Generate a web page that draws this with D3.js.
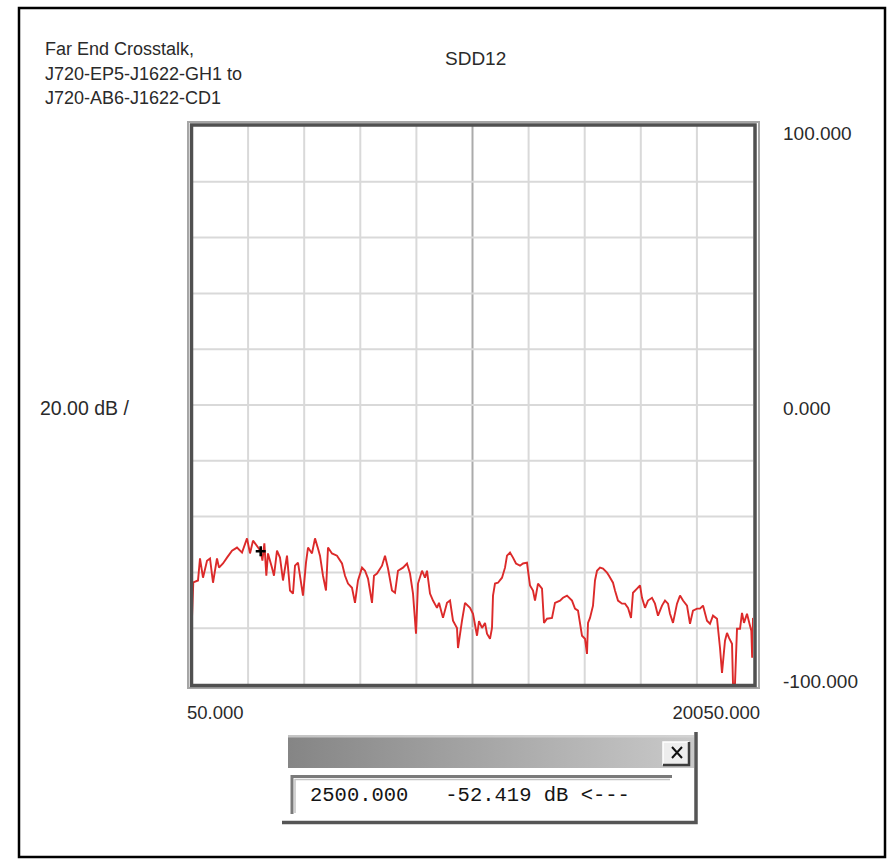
<!DOCTYPE html>
<html>
<head>
<meta charset="utf-8">
<script src="https://cdn.jsdelivr.net/npm/d3@7"></script>
<style>
  html, body { margin: 0; padding: 0; background: #fff; }
  svg { display: block; }
  text { font-family: "Liberation Sans", Arial, sans-serif; fill: #2a2a2a; }
  .mono { font-family: "Liberation Mono", "DejaVu Sans Mono", monospace; white-space: pre; }
</style>
</head>
<body>
<svg id="chart" width="890" height="859"></svg>
<script>
// Far-end crosstalk sweep (SDD12), magnitude in dB against frequency in MHz

const titleLines = ["Far End Crosstalk,", "J720-EP5-J1622-GH1 to", "J720-AB6-J1622-CD1"];
const traceName = "SDD12";
const scaleLabel = "20.00 dB /";

const freqDomain = [50, 20050];
const dbDomain = [-100, 100];
const freqGrid = [2050, 4050, 6050, 8050, 10050, 12050, 14050, 16050, 18050];
const dbGrid = [-80, -60, -40, -20, 0, 20, 40, 60, 80];
const dbLabels = [100, 0, -100];
const freqLabels = [50, 20050];

// Measured trace
const freqs = [
  50, 96, 264, 335, 442, 585, 692, 799, 941, 1013,
  1155, 1298, 1476, 1654, 1833, 2011, 2118, 2225, 2500, 2560,
  2630, 2700, 2759, 2902, 2973, 3080, 3187, 3294, 3437, 3544,
  3651, 3722, 3829, 4007, 4114, 4186, 4328, 4435, 4542, 4613,
  4720, 4827, 4899, 5041, 5219, 5398, 5505, 5612, 5754, 5861,
  5968, 6111, 6218, 6325, 6467, 6538, 6645, 6824, 6931, 7038,
  7180, 7287, 7394, 7572, 7715, 7822, 7929, 8036, 8107, 8250,
  8357, 8428, 8535, 8642, 8784, 8856, 8998, 9141, 9248, 9355,
  9497, 9533, 9676, 9783, 9961, 10068, 10211, 10282, 10389, 10496,
  10567, 10674, 10745, 10781, 10852, 10959, 11102, 11209, 11280, 11387,
  11494, 11601, 11744, 11850, 11993, 12029, 12100, 12207, 12278, 12385,
  12528, 12599, 12706, 12884, 12991, 13170, 13277, 13419, 13597, 13704,
  13811, 13954, 14061, 14132, 14168, 14239, 14346, 14417, 14489, 14596,
  14703, 14845, 14916, 15059, 15130, 15237, 15380, 15487, 15594, 15701,
  15772, 15915, 16022, 16093, 16200, 16307, 16449, 16556, 16663, 16806,
  16913, 17020, 17091, 17198, 17341, 17448, 17555, 17697, 17804, 17911,
  18054, 18161, 18268, 18410, 18517, 18624, 18767, 18874, 18945, 19052,
  19123, 19195, 19302, 19337, 19408, 19480, 19587, 19658, 19729, 19836,
  19943, 19990, 20020, 20050
];
const dbs = [
  -76.2, -63.6, -62.9, -55.0, -61.9, -55.8, -55.0, -63.7, -55.0, -58.3,
  -56.8, -54.7, -52.2, -51.1, -52.9, -47.8, -53.2, -48.6, -52.419, -55.8,
  -49.6, -61.2, -53.2, -58.3, -61.2, -52.2, -54.7, -62.9, -54.0, -66.5,
  -67.6, -57.6, -56.5, -68.3, -56.5, -51.1, -53.2, -47.8, -51.4, -54.0,
  -61.2, -66.5, -51.1, -53.2, -54.0, -56.8, -61.2, -64.0, -65.5, -70.9,
  -62.9, -58.3, -59.4, -62.2, -70.9, -61.2, -60.4, -57.6, -54.0, -58.6,
  -66.5, -67.3, -59.4, -58.3, -56.8, -60.4, -67.6, -82.0, -64.0, -59.4,
  -61.9, -59.4, -67.6, -70.1, -72.7, -70.9, -76.3, -70.9, -70.1, -77.3,
  -79.9, -87.1, -77.3, -70.9, -72.7, -74.8, -82.7, -77.5, -79.9, -78.1,
  -82.0, -83.8, -79.9, -68.3, -64.0, -63.7, -61.9, -58.3, -54.0, -52.9,
  -54.7, -56.8, -57.6, -56.8, -56.5, -59.4, -64.7, -66.5, -70.1, -64.0,
  -65.8, -78.1, -76.6, -76.3, -70.9, -70.1, -69.1, -68.3, -70.1, -73.0,
  -73.7, -82.7, -83.8, -89.2, -78.1, -76.3, -71.9, -62.9, -59.4, -58.3,
  -58.6, -60.1, -61.2, -63.7, -66.5, -70.1, -71.2, -71.2, -72.7, -76.3,
  -67.3, -65.8, -64.7, -69.1, -72.7, -70.1, -69.1, -71.2, -75.5, -71.9,
  -70.1, -71.2, -74.8, -78.1, -71.2, -68.3, -70.1, -71.9, -78.4, -73.7,
  -73.0, -73.0, -71.9, -77.3, -78.4, -75.5, -76.6, -87.1, -96.0, -84.5,
  -81.7, -83.5, -85.6, -100.0, -100.0, -80.2, -80.2, -74.5, -78.1, -74.8,
  -79.1, -80.9, -90.6, -76.3
];

// Marker readout
const markerFreq = 2500;
const markerDb = -52.419;

// ---- layout ----
const svg = d3.select("#chart");
const L = 192, R = 753, T = 126, B = 684;

const x = d3.scaleLinear().domain(freqDomain).range([L, R]);
const y = d3.scaleLinear().domain(dbDomain).range([B, T]);

// plain ASCII hyphen for negative numbers, as the instrument prints them
const fmt = d3.formatLocale({ decimal: ".", thousands: ",", grouping: [3], currency: ["", ""], minus: "-" }).format(".3f");

// outer page border
svg.append("rect")
  .attr("x", 19).attr("y", 8).attr("width", 866).attr("height", 849)
  .attr("fill", "none").attr("stroke", "#000").attr("stroke-width", 2.5);

// header text
svg.append("g").selectAll("text").data(titleLines).join("text")
  .attr("x", 45).attr("y", (d, i) => 55 + i * 24.5)
  .attr("font-size", 18).text(d => d);

svg.append("text").attr("x", 445).attr("y", 65).attr("font-size", 19).text(traceName);
svg.append("text").attr("x", 40).attr("y", 415).attr("font-size", 19.5).text(scaleLabel);

// grid
const grid = svg.append("g");
grid.selectAll("line.v").data(freqGrid).join("line")
  .attr("class", "v")
  .attr("x1", d => x(d)).attr("x2", d => x(d))
  .attr("y1", T).attr("y2", B)
  .attr("stroke", d => d === 10050 ? "#ababab" : "#d9d9d9")
  .attr("stroke-width", 2);
grid.selectAll("line.h").data(dbGrid).join("line")
  .attr("class", "h")
  .attr("x1", L).attr("x2", R)
  .attr("y1", d => y(d)).attr("y2", d => y(d))
  .attr("stroke", "#d9d9d9")
  .attr("stroke-width", 2);

// trace
svg.append("clipPath").attr("id", "plotClip")
  .append("rect").attr("x", L).attr("y", T).attr("width", R - L).attr("height", B - T);

const pts = d3.zip(freqs, dbs);
const line = d3.line().x(d => x(d[0])).y(d => y(d[1]));
svg.append("path")
  .attr("clip-path", "url(#plotClip)")
  .attr("d", line(pts))
  .attr("fill", "none")
  .attr("stroke", "#dc2a2a")
  .attr("stroke-width", 1.9)
  .attr("stroke-linejoin", "miter")
  .attr("stroke-miterlimit", 2);

// marker cross
const mx = x(markerFreq), my = y(markerDb);
svg.append("path")
  .attr("d", `M${mx - 5},${my}H${mx + 5}M${mx},${my - 5}V${my + 5}`)
  .attr("stroke", "#000").attr("stroke-width", 2.6).attr("fill", "none");

// plot frame
svg.append("rect")
  .attr("x", L - 4).attr("y", T - 4).attr("width", R - L + 10).attr("height", B - T + 8)
  .attr("fill", "none").attr("stroke", "#a6a6a6").attr("stroke-width", 2);
svg.append("rect")
  .attr("x", L - 0.5).attr("y", T - 1).attr("width", R - L + 2.5).attr("height", B - T + 2.5)
  .attr("fill", "none").attr("stroke", "#505050").attr("stroke-width", 3.5);

// value labels
const dbDy = [14, 10, 4];
svg.append("g").selectAll("text").data(dbLabels).join("text")
  .attr("x", 783).attr("y", (d, i) => y(d) + dbDy[i])
  .attr("font-size", 19).text(d => fmt(d));

svg.append("g").selectAll("text").data(freqLabels).join("text")
  .attr("x", (d, i) => i === 0 ? x(d) - 5 : x(d) + 7)
  .attr("y", 719)
  .attr("text-anchor", (d, i) => i === 0 ? "start" : "end")
  .attr("font-size", 18.5).text(d => fmt(d));

// marker readout window
const win = svg.append("g");
const grad = svg.append("defs").append("linearGradient").attr("id", "barGrad")
  .attr("x1", "0%").attr("x2", "100%");
grad.append("stop").attr("offset", "0%").attr("stop-color", "#858585");
grad.append("stop").attr("offset", "100%").attr("stop-color", "#c9c9c9");

win.append("rect").attr("x", 288).attr("y", 735).attr("width", 406).attr("height", 33)
  .attr("fill", "url(#barGrad)");
win.append("rect").attr("x", 288).attr("y", 735).attr("width", 406).attr("height", 2.5)
  .attr("fill", "#d4d4d4").attr("opacity", 0.8);

// close button
win.append("rect").attr("x", 663).attr("y", 742).attr("width", 26).attr("height", 23)
  .attr("fill", "#ededed");
win.append("path").attr("d", "M663,765V742H689").attr("stroke", "#fff").attr("stroke-width", 1.5).attr("fill", "none");
win.append("path").attr("d", "M663,765H689V742").attr("stroke", "#3c3c3c").attr("stroke-width", 2.5).attr("fill", "none");
win.append("path").attr("d", "M672,747L682,758M682,747L672,758")
  .attr("stroke", "#111").attr("stroke-width", 2).attr("fill", "none");

// sunken readout field
win.append("path").attr("d", "M292,814V776.5H672").attr("stroke", "#7a7a7a").attr("stroke-width", 3).attr("fill", "none");
win.append("path").attr("d", "M295,813V779.5H670").attr("stroke", "#c4c4c4").attr("stroke-width", 1.5).attr("fill", "none");

win.append("text").attr("class", "mono")
  .attr("x", 310).attr("y", 801).attr("font-size", 20.5).style("fill", "#151515")
  .text(`${fmt(markerFreq)}   ${fmt(markerDb)} dB <---`);

// window edges
win.append("path").attr("d", "M282,822.5H696V732").attr("stroke", "#555").attr("stroke-width", 3.5).attr("fill", "none");
</script>
</body>
</html>
